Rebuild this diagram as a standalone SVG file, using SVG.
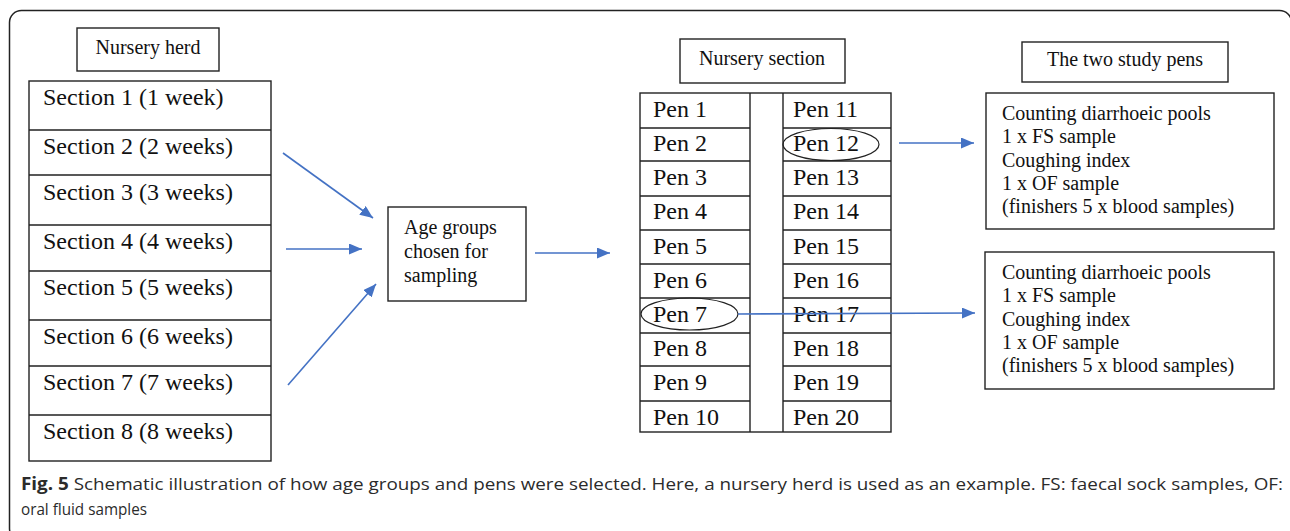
<svg xmlns="http://www.w3.org/2000/svg" width="1290" height="531" viewBox="0 0 1290 531">
<style>
.box{fill:#fff;stroke:#222;stroke-width:1.4}
.ln{stroke:#222;stroke-width:1.4;fill:none}
.t{font-family:"Liberation Serif","Times New Roman",serif;fill:#111}
.t20{font-size:20px}
.t24{font-size:24px}
.conn{stroke:#4472C4;stroke-width:1.6;fill:none;marker-end:url(#ah)}
.cap{font-family:"Open Sans","Noto Sans",sans-serif;font-size:17px;fill:#2b2b2b}
.oval{fill:none;stroke:#222;stroke-width:1.2}
</style>
<defs>
<marker id="ah" markerUnits="userSpaceOnUse" markerWidth="13" markerHeight="11" refX="13" refY="5.5" orient="auto">
<path d="M0,0 L13,5.5 L0,11 z" fill="#4472C4"/>
</marker>
</defs>
<rect x="0" y="0" width="1290" height="531" fill="#fff"/>
<rect x="9.5" y="10.5" width="1282" height="530" rx="12" fill="none" stroke="#222" stroke-width="1.5"/>

<g id="nursery-herd">
<rect class="box" x="77" y="28" width="142" height="43"/>
<text class="t t20" x="148" y="54" text-anchor="middle">Nursery herd</text>
</g>

<g id="sections">
<rect class="box" x="29" y="81" width="242" height="380"/>
<path class="ln" d="M29,130H271M29,175H271M29,225H271M29,271H271M29,320H271M29,366H271M29,415H271"/>
<text class="t t24" x="43" y="105">Section 1 (1 week)</text>
<text class="t t24" x="43" y="154">Section 2 (2 weeks)</text>
<text class="t t24" x="43" y="200">Section 3 (3 weeks)</text>
<text class="t t24" x="43" y="249">Section 4 (4 weeks)</text>
<text class="t t24" x="43" y="295">Section 5 (5 weeks)</text>
<text class="t t24" x="43" y="344">Section 6 (6 weeks)</text>
<text class="t t24" x="43" y="390">Section 7 (7 weeks)</text>
<text class="t t24" x="43" y="439">Section 8 (8 weeks)</text>
</g>

<g id="age-groups">
<rect class="box" x="388" y="207" width="138" height="94"/>
<text class="t t20" x="404" y="234">Age groups</text>
<text class="t t20" x="404" y="258">chosen for</text>
<text class="t t20" x="404" y="282">sampling</text>
</g>

<g id="nursery-section">
<rect class="box" x="680" y="39" width="165" height="44"/>
<text class="t t20" x="762" y="65" text-anchor="middle">Nursery section</text>
</g>

<g id="pens">
<rect class="box" x="640" y="93" width="251" height="339"/>
<path class="ln" d="M750,93V432M783,93V432"/>
<path class="ln" d="M640,128H750M640,161H750M640,196H750M640,230H750M640,264H750M640,298H750M640,333H750M640,366H750M640,401H750"/>
<path class="ln" d="M783,128H891M783,161H891M783,196H891M783,230H891M783,264H891M783,298H891M783,333H891M783,366H891M783,401H891"/>
<text class="t t24" x="653" y="117">Pen 1</text>
<text class="t t24" x="653" y="151">Pen 2</text>
<text class="t t24" x="653" y="185">Pen 3</text>
<text class="t t24" x="653" y="219">Pen 4</text>
<text class="t t24" x="653" y="254">Pen 5</text>
<text class="t t24" x="653" y="288">Pen 6</text>
<text class="t t24" x="653" y="322">Pen 7</text>
<text class="t t24" x="653" y="356">Pen 8</text>
<text class="t t24" x="653" y="390">Pen 9</text>
<text class="t t24" x="653" y="425">Pen 10</text>
<text class="t t24" x="793" y="117">Pen 11</text>
<text class="t t24" x="793" y="151">Pen 12</text>
<text class="t t24" x="793" y="185">Pen 13</text>
<text class="t t24" x="793" y="219">Pen 14</text>
<text class="t t24" x="793" y="254">Pen 15</text>
<text class="t t24" x="793" y="288">Pen 16</text>
<text class="t t24" x="793" y="322">Pen 17</text>
<text class="t t24" x="793" y="356">Pen 18</text>
<text class="t t24" x="793" y="390">Pen 19</text>
<text class="t t24" x="793" y="425">Pen 20</text>
<ellipse class="oval" cx="831" cy="144.5" rx="48" ry="16"/>
<ellipse class="oval" cx="689.5" cy="314" rx="48.5" ry="16"/>
</g>

<g id="study-pens-title">
<rect class="box" x="1022" y="42" width="206" height="40"/>
<text class="t t20" x="1125" y="66" text-anchor="middle">The two study pens</text>
</g>

<g id="study-pen-1">
<rect class="box" x="986" y="93" width="288" height="136"/>
<text class="t t20" x="1002" y="120">Counting diarrhoeic pools</text>
<text class="t t20" x="1002" y="143">1 x FS sample</text>
<text class="t t20" x="1002" y="167">Coughing index</text>
<text class="t t20" x="1002" y="190">1 x OF sample</text>
<text class="t t20" x="1002" y="213">(finishers 5 x blood samples)</text>
</g>

<g id="study-pen-2">
<rect class="box" x="985" y="252" width="289" height="137"/>
<text class="t t20" x="1002" y="279">Counting diarrhoeic pools</text>
<text class="t t20" x="1002" y="302">1 x FS sample</text>
<text class="t t20" x="1002" y="326">Coughing index</text>
<text class="t t20" x="1002" y="349">1 x OF sample</text>
<text class="t t20" x="1002" y="372">(finishers 5 x blood samples)</text>
</g>

<g id="connectors">
<line class="conn" x1="283" y1="153" x2="373" y2="218"/>
<line class="conn" x1="286" y1="249" x2="362" y2="249"/>
<line class="conn" x1="288" y1="385" x2="376" y2="284"/>
<line class="conn" x1="535" y1="253" x2="610" y2="253"/>
<line class="conn" x1="899" y1="143" x2="974" y2="143"/>
<line class="conn" x1="738" y1="314" x2="975" y2="313"/>
</g>

<g id="caption">
<text class="cap" x="21" y="490" textLength="1262" lengthAdjust="spacingAndGlyphs"><tspan font-weight="bold">Fig. 5</tspan> Schematic illustration of how age groups and pens were selected. Here, a nursery herd is used as an example. FS: faecal sock samples, OF:</text>
<text class="cap" x="21" y="515" textLength="126" lengthAdjust="spacingAndGlyphs">oral fluid samples</text>
</g>
</svg>
